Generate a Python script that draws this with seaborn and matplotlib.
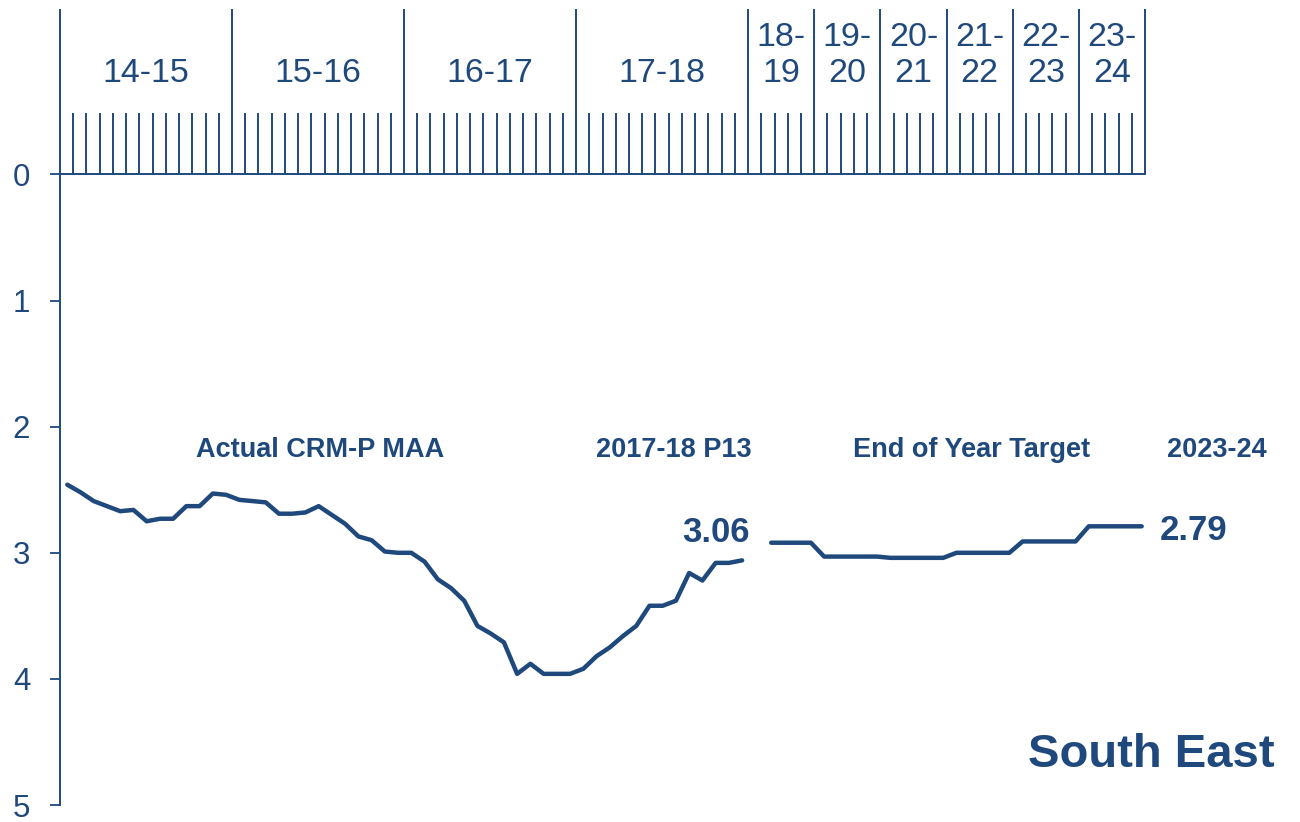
import numpy as np
import pandas as pd
import seaborn as sns
import matplotlib
matplotlib.use("Agg")
import matplotlib.pyplot as plt

BLUE = "#1F497D"

# Year bands of the period ruler
year_labels = ["14-15", "15-16", "16-17", "17-18", "18-\n19", "19-\n20",
               "20-\n21", "21-\n22", "22-\n23", "23-\n24"]
periods_per_year = [13, 13, 13, 13, 5, 5, 5, 5, 5, 5]

# Actual CRM-P MAA, periods P1 2014-15 .. P13 2017-18
actual_maa = [2.46, 2.52, 2.59, 2.63, 2.67, 2.66, 2.75, 2.73, 2.73, 2.63,
              2.63, 2.53, 2.54, 2.58, 2.59, 2.60, 2.69, 2.69, 2.68, 2.63,
              2.70, 2.77, 2.87, 2.90, 2.99, 3.00, 3.00, 3.07, 3.21, 3.28,
              3.38, 3.58, 3.64, 3.71, 3.96, 3.88, 3.96, 3.96, 3.96, 3.92,
              3.82, 3.75, 3.66, 3.58, 3.42, 3.42, 3.38, 3.16, 3.22, 3.08,
              3.08, 3.06]

# End of year targets 2018-19 .. 2023-24
target_years = ["18-19", "19-20", "20-21", "21-22", "22-23", "23-24"]
target_maa = [2.92, 3.03, 3.04, 3.00, 2.91, 2.79]
target_points = [4, 5, 5, 5, 5, 5]

sns.set_style("white")
plt.rcParams["font.family"] = ["Liberation Sans", "DejaVu Sans"]

bounds = np.cumsum([0] + periods_per_year)

df_actual = pd.DataFrame({"pos": np.arange(len(actual_maa)) + 0.55,
                          "maa": actual_maa})

rows = []
for k, (yr, val, n) in enumerate(zip(target_years, target_maa, target_points)):
    start = bounds[4 + k]
    width = periods_per_year[4 + k]
    for j in range(width - n, width):
        rows.append({"year": yr, "pos": start + j + 0.75, "maa": val})
df_target = pd.DataFrame(rows)

fig = plt.figure(figsize=(13, 8.22), dpi=100)
ax = fig.add_axes([60 / 1300, 17 / 822, 1085 / 1300, 630.5 / 822])

sns.lineplot(data=df_actual, x="pos", y="maa", color=BLUE, lw=3.2,
             estimator=None, ax=ax)
sns.lineplot(data=df_target, x="pos", y="maa", color=BLUE, lw=3.2,
             estimator=None, ax=ax)

ax.set_xlim(0, bounds[-1])
ax.set_ylim(5, 0)
ax.set_xticks([])
ax.set_yticks(range(6))
ax.set_xlabel("")
ax.set_ylabel("")
ax.tick_params(axis="y", direction="out", length=7.5, width=1.3, color=BLUE,
               labelcolor=BLUE, labelsize=22.5, pad=14, left=True)
for side in ["right", "bottom"]:
    ax.spines[side].set_visible(False)
for side in ["left", "top"]:
    ax.spines[side].set_color(BLUE)
    ax.spines[side].set_linewidth(1.4)

# period ruler above the zero line
ax.vlines(bounds, 0, -1.31, color=BLUE, lw=1.4, clip_on=False)
minor = [u for u in range(bounds[-1]) if u not in bounds]
ax.vlines(minor, 0, -0.49, color=BLUE, lw=1.4, clip_on=False)
for lab, b0, b1 in zip(year_labels, bounds[:-1], bounds[1:]):
    ax.text((b0 + b1) / 2, -0.734, lab, ha="center", va="baseline",
            multialignment="center", linespacing=1.22, fontsize=24.5,
            color=BLUE)

bold = dict(color=BLUE, fontweight="bold", va="baseline")
ax.text(19.65, 2.238, "Actual CRM-P MAA", ha="center", fontsize=19.5, **bold)
ax.text(52.3, 2.238, "2017-18 P13", ha="right", fontsize=19.5, **bold)
ax.text(68.9, 2.238, "End of Year Target", ha="center", fontsize=19.5, **bold)
ax.text(83.67, 2.238, "2023-24", ha="left", fontsize=19.5, **bold)
ax.text(52.15, 2.914, f"{actual_maa[-1]:.2f}", ha="right", fontsize=25, **bold)
ax.text(83.1, 2.899, f"{target_maa[-1]:.2f}", ha="left", fontsize=25, **bold)
ax.text(82.5, 4.699, "South East", ha="center", fontsize=34, **bold)

fig.savefig("out.png", dpi=100)
